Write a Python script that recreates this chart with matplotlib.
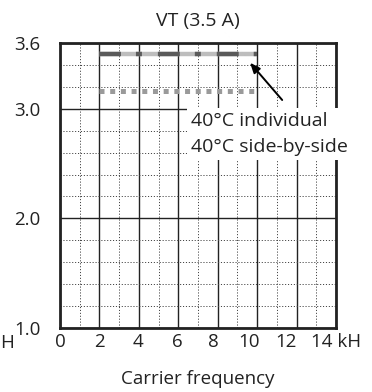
import matplotlib
matplotlib.use("Agg")
import matplotlib.pyplot as plt
from matplotlib.ticker import FixedLocator, NullFormatter

plt.rcParams["font.family"] = ["Open Sans", "DejaVu Sans"]
plt.rcParams["lines.scale_dashes"] = False

# data
freq_khz = [2, 10]
individual = [3.5, 3.5]
side_by_side = [3.16, 3.16]

x_ticks = [0, 2, 4, 6, 8, 10, 12, 14]
x_labels = ["0", "2", "4", "6", "8", "10", "12", "14 kH"]
x_label_pos = [0, 1.98, 3.96, 5.94, 7.77, 9.59, 11.47, 14.0]
y_ticks = [1.0, 2.0, 3.0, 3.6]
y_labels = ["1.0", "2.0", "3.0", "3.6"]

fig = plt.figure(figsize=(3.72, 3.92), dpi=100)
ax = fig.add_axes([60 / 372, 1 - 328 / 392, 276 / 372, 285 / 392])

ax.set_xlim(0, 14)
ax.set_ylim(1.0, 3.6)

# ── grid: solid at majors, dotted at minors ──
ax.xaxis.set_major_locator(FixedLocator(x_ticks))
ax.xaxis.set_minor_locator(FixedLocator(range(1, 14, 2)))
ax.yaxis.set_major_locator(FixedLocator(y_ticks))
minor_y = [v / 10 for v in range(12, 36, 2) if v not in (20, 30)]
ax.yaxis.set_minor_locator(FixedLocator(minor_y))
ax.grid(which="major", color="#222222", linewidth=1.0, linestyle="-")
ax.grid(which="minor", color="#444444", linewidth=0.7, linestyle=(0, (0.8, 1.3)))
ax.set_axisbelow(True)
ax.tick_params(which="both", length=0, labelsize=13.5, colors="#222222")
ax.set_yticklabels(y_labels)
ax.tick_params(axis="y", pad=14)
ax.xaxis.set_major_formatter(NullFormatter())

for pos, lab in zip(x_label_pos, x_labels):
    ax.text(pos, -0.05, lab, transform=ax.get_xaxis_transform(), ha="center",
            va="center", fontsize=13.5, color="#222222", clip_on=False)

for side in ax.spines.values():
    side.set_linewidth(2.0)
    side.set_color("#222222")

# ── series ──
ax.plot(freq_khz, individual, color="#bdbdbd", linewidth=3.2,
        solid_capstyle="butt", zorder=3)
ax.plot(freq_khz, individual, color="#5a5a5a", linewidth=3.2,
        dash_capstyle="butt", linestyle=(0, (15.8, 10.8, 4.3, 11.5)), zorder=4)
ax.plot(freq_khz, side_by_side, color="#9a9a9a", linewidth=3.6,
        dash_capstyle="butt", linestyle=(0, (3.6, 4.1)), zorder=4)

# ── legend-like annotation ──
ax.annotate("", xy=(9.64, 3.42), xytext=(11.27, 3.08),
            arrowprops=dict(arrowstyle="-|>,head_length=0.6,head_width=0.25",
                            color="black", linewidth=1.4, shrinkA=0, shrinkB=0),
            zorder=6)
ax.text(6.62, 2.77, "40°C individual\n40°C side-by-side", fontsize=14,
        color="#222222", ha="left", va="center", linespacing=1.55, zorder=10,
        clip_on=False,
        bbox=dict(boxstyle="square,pad=0.2", facecolor="white", edgecolor="none"))

ax.set_title("VT (3.5 A)", fontsize=14, color="#222222", pad=12)
ax.set_xlabel("Carrier frequency", fontsize=13.5, color="#222222", labelpad=27)
fig.text(0.0, 1 - 343 / 392, "H", fontsize=13.5, color="#222222", ha="left",
         va="center")

fig.savefig("out.png", dpi=100)
